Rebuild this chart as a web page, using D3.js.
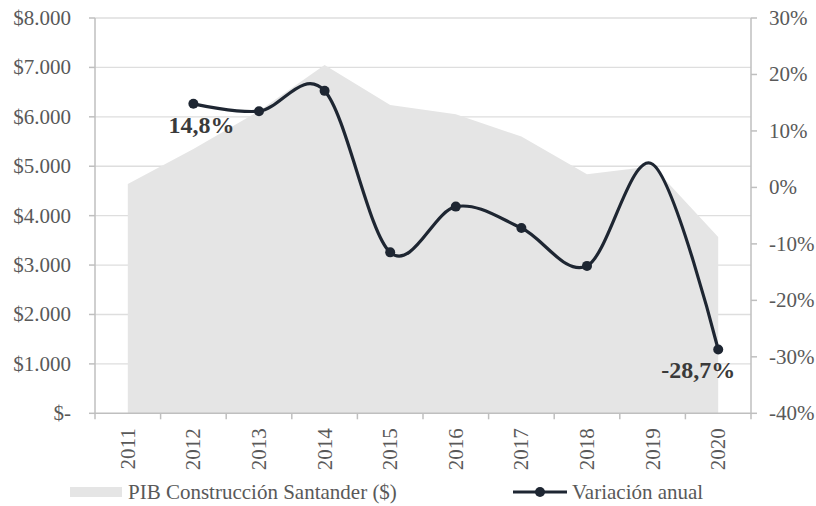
<!DOCTYPE html>
<html><head><meta charset="utf-8">
<script src="https://cdn.jsdelivr.net/npm/d3@7"></script>
<style>
html,body{margin:0;padding:0;background:#fff;}
svg{display:block;}
svg text{font-family:'Liberation Serif','Times New Roman',Times,'DejaVu Serif',serif;}
</style></head>
<body><svg id="chart" width="816" height="506"></svg>
<script>
const years = ["2011","2012","2013","2014","2015","2016","2017","2018","2019","2020"];
const pib = [4640, 5350, 6120, 7050, 6240, 6050, 5600, 4840, 5000, 3570];
const variacion = [null, 14.8, 13.5, 17.1, -11.5, -3.4, -7.2, -13.9, 4.1, -28.7];
const leftTicks = [0,1000,2000,3000,4000,5000,6000,7000,8000];
const rightTicks = [-40,-30,-20,-10,0,10,20,30];
const labelled = [{year:"2012", text:"14,8%"},{year:"2020", text:"-28,7%"}];
const legendLabels = ["PIB Construcción Santander ($)", "Variación anual"];

const svg = d3.select("#chart").attr("font-family", "Liberation Serif, serif");
const L = 95, R = 751, T = 18, B = 413.3;
const x = d3.scaleBand().domain(years).range([L, R]).padding(0);
const cx = d => x(d) + x.bandwidth()/2;
const yL = d3.scaleLinear().domain([0, 8000]).range([B, T]);
const yR = d3.scaleLinear().domain([-40, 30]).range([B, T]);

const gridColor = "#dedede", axisColor = "#bfbfbf", textColor = "#595959";
const lineColor = "#1e2632";
const fmtL = d => d === 0 ? "$-" : "$" + d3.format(",")(d).replace(/,/g, ".");

// gridlines
svg.append("g").selectAll("line").data(leftTicks.filter(d => d > 0)).join("line")
  .attr("x1", L).attr("x2", R).attr("y1", d => yL(d)).attr("y2", d => yL(d))
  .attr("stroke", gridColor).attr("stroke-width", 1.3);

// area
const area = d3.area().x((d,i) => cx(years[i])).y0(yL(0)).y1(d => yL(d));
svg.append("path").datum(pib).attr("d", area).attr("fill", "#e5e5e5");

// axes lines
const ax = svg.append("g").attr("stroke", axisColor).attr("stroke-width", 1.5);
ax.append("line").attr("x1", L).attr("x2", L).attr("y1", T).attr("y2", B);
ax.append("line").attr("x1", R).attr("x2", R).attr("y1", T).attr("y2", B);
ax.append("line").attr("x1", L).attr("x2", R).attr("y1", B).attr("y2", B);
ax.selectAll(".lt").data(leftTicks).join("line").attr("class","lt")
  .attr("x1", L-6).attr("x2", L).attr("y1", d => yL(d)).attr("y2", d => yL(d));
ax.selectAll(".rt").data(rightTicks).join("line").attr("class","rt")
  .attr("x1", R).attr("x2", R+6).attr("y1", d => yR(d)).attr("y2", d => yR(d));
const edges = years.map(d => x(d)).concat([x(years[years.length-1]) + x.bandwidth()]);
ax.selectAll(".bt").data(edges).join("line").attr("class","bt")
  .attr("x1", d => d).attr("x2", d => d).attr("y1", B).attr("y2", B+6);

// tick labels
svg.append("g").selectAll("text").data(leftTicks).join("text")
  .attr("x", L-24).attr("y", d => yL(d)).attr("dy", "0.33em")
  .attr("text-anchor", "end").attr("font-size", 21).attr("fill", textColor)
  .text(fmtL);
svg.append("g").selectAll("text").data(rightTicks).join("text")
  .attr("x", R+18).attr("y", d => yR(d)).attr("dy", "0.33em")
  .attr("text-anchor", "start").attr("font-size", 21).attr("fill", textColor)
  .text(d => d + "%");
svg.append("g").selectAll("text").data(years).join("text")
  .attr("transform", d => `translate(${cx(d)},${B+15}) rotate(-90)`)
  .attr("text-anchor", "end").attr("dominant-baseline", "central")
  .attr("font-size", 21).attr("fill", textColor).text(d => d);

// line
const pts = years.map((d,i) => ({year:d, v:variacion[i]})).filter(p => p.v !== null);
const line = d3.line().x(p => cx(p.year)).y(p => yR(p.v)).curve(d3.curveCardinal.tension(0));
svg.append("path").datum(pts).attr("d", line).attr("fill", "none")
  .attr("stroke", lineColor).attr("stroke-width", 3.2);
svg.append("g").selectAll("circle").data(pts.filter(p => p.year !== "2019")).join("circle")
  .attr("cx", p => cx(p.year)).attr("cy", p => yR(p.v)).attr("r", 5).attr("fill", lineColor);

// data labels
const vOf = y => variacion[years.indexOf(y)];
svg.append("g").selectAll("text").data(labelled).join("text")
  .attr("x", d => cx(d.year) + (d.year === "2012" ? 8 : -20))
  .attr("y", d => yR(vOf(d.year)) + 29)
  .attr("text-anchor", "middle").attr("font-size", 24).attr("font-weight", "bold")
  .attr("fill", "#3a3a3a").text(d => d.text);

// legend
const lg = svg.append("g");
lg.append("rect").attr("x", 70).attr("y", 487).attr("width", 52).attr("height", 10).attr("fill", "#e5e5e5");
lg.append("text").attr("x", 128).attr("y", 498.5).attr("font-size", 21).attr("fill", textColor).text(legendLabels[0]);
lg.append("line").attr("x1", 513).attr("x2", 567).attr("y1", 492).attr("y2", 492)
  .attr("stroke", lineColor).attr("stroke-width", 3.2);
lg.append("circle").attr("cx", 540).attr("cy", 492).attr("r", 5).attr("fill", lineColor);
lg.append("text").attr("x", 572).attr("y", 498.5).attr("font-size", 21).attr("fill", textColor).text(legendLabels[1]);
</script>
</body></html>
